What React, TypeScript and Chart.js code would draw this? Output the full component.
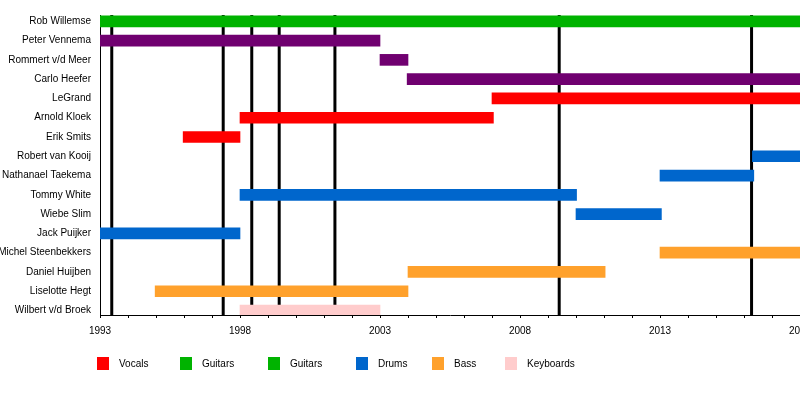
import React, { useEffect, useRef } from "react";
import { Chart, registerables } from "chart.js";

Chart.register(...registerables);

const members = [
  "Rob Willemse",
  "Peter Vennema",
  "Rommert v/d Meer",
  "Carlo Heefer",
  "LeGrand",
  "Arnold Kloek",
  "Erik Smits",
  "Robert van Kooij",
  "Nathanael Taekema",
  "Tommy White",
  "Wiebe Slim",
  "Jack Puijker",
  "Michel Steenbekkers",
  "Daniel Huijben",
  "Liselotte Hegt",
  "Wilbert v/d Broek",
];

const END = 2018.6;

// [member index, start, end]
const vocals: [number, number, number][] = [
  [4, 2007.0, END],
  [5, 1998.0, 2007.05],
  [6, 1995.97, 1998.0],
];
const guitars: [number, number, number][] = [[0, 1993.0, END]];
const rhythmGuitars: [number, number, number][] = [
  [1, 1993.0, 2003.0],
  [2, 2003.0, 2004.0],
  [3, 2003.97, END],
];
const drums: [number, number, number][] = [
  [7, 2016.3, END],
  [8, 2013.0, 2016.35],
  [9, 1998.0, 2010.02],
  [10, 2010.0, 2013.05],
  [11, 1993.0, 1998.0],
];
const bass: [number, number, number][] = [
  [12, 2013.0, END],
  [13, 2004.0, 2011.04],
  [14, 1994.97, 2004.0],
];
const keyboards: [number, number, number][] = [[15, 1998.0, 2003.0]];

const releases = [1993.42, 1997.4, 1998.42, 1999.4, 2001.39, 2009.4, 2016.27];

const legendLabels = ["Vocals", "Guitars", "Guitars", "Drums", "Bass", "Keyboards"];
const legendColors = ["#FF0000", "#00B300", "#00B300", "#0066CC", "#FFA12C", "#FFCCCC"];
const legendX = [97, 180, 268, 356, 432, 505];

const X_MIN = 1993;
const X_MAX = 2018;
const years: number[] = [];
for (let y = X_MIN; y <= X_MAX; y++) years.push(y);

const FONT = "'Liberation Sans', Arial, Helvetica, sans-serif";

function toData(rows: [number, number, number][]) {
  return rows.map(([i, s, e]) => ({ x: [s, e], y: i }));
}

const releaseLines = {
  id: "releaseLines",
  beforeDatasetsDraw(chart: any) {
    const { ctx, chartArea, scales } = chart;
    ctx.save();
    ctx.strokeStyle = "#000";
    ctx.lineWidth = 3;
    for (const r of releases) {
      const x = scales.x.getPixelForValue(r);
      ctx.beginPath();
      ctx.moveTo(x, chartArea.top);
      ctx.lineTo(x, chartArea.bottom);
      ctx.stroke();
    }
    ctx.restore();
  },
};

export default function App() {
  const ref = useRef<HTMLCanvasElement | null>(null);

  useEffect(() => {
    if (!ref.current) return;
    const mk = (label: string, rows: [number, number, number][], color: string) => ({
      label,
      data: toData(rows),
      backgroundColor: color,
      borderWidth: 0,
      barThickness: 11,
      grouped: false,
    });
    const chart = new Chart(ref.current, {
      type: "bar",
      data: {
        datasets: [
          mk("Vocals", vocals, "#FF0000"),
          mk("Guitars", guitars, "#00B300"),
          mk("Rhythm guitars", rhythmGuitars, "#700070"),
          mk("Drums", drums, "#0066CC"),
          mk("Bass", bass, "#FFA12C"),
          mk("Keyboards", keyboards, "#FFCCCC"),
        ] as any,
      },
      plugins: [releaseLines],
      options: {
        animation: false,
        responsive: false,
        indexAxis: "y",
        layout: { padding: { top: 15, bottom: 50, left: 0, right: 0 } },
        plugins: {
          legend: { display: false },
          tooltip: { enabled: false },
          title: { display: false },
        },
        scales: {
          x: {
            type: "linear",
            offset: false,
            min: X_MIN,
            max: X_MAX,
            afterBuildTicks: (scale: any) => {
              scale.ticks = years.map((v) => ({ value: v }));
            },
            afterFit: (scale: any) => {
              scale.height = 30;
              scale.paddingLeft = 0;
              scale.paddingRight = 0;
            },
            grid: {
              display: true,
              drawOnChartArea: false,
              drawTicks: true,
              tickLength: 3,
              color: "#000",
              lineWidth: 1,
            },
            border: { display: true, color: "#000", width: 1 },
            ticks: {
              autoSkip: false,
              maxRotation: 0,
              padding: 7,
              color: "#000",
              font: { family: FONT, size: 10 },
              callback: (v: any) => ((Number(v) - X_MIN) % 5 === 0 ? String(v) : ""),
            },
          },
          y: {
            type: "linear",
            offset: false,
            reverse: true,
            min: -0.327,
            max: 15.233,
            afterBuildTicks: (scale: any) => {
              scale.ticks = members.map((_, i) => ({ value: i }));
            },
            afterFit: (scale: any) => {
              scale.width = 100;
              scale.paddingTop = 0;
              scale.paddingBottom = 0;
            },
            grid: { display: false, drawTicks: false, tickLength: 0 },
            border: { display: true, color: "#000", width: 1 },
            ticks: {
              autoSkip: false,
              padding: 9,
              color: "#000",
              font: { family: FONT, size: 10 },
              callback: (v: any) => members[Number(v)] ?? "",
            },
          },
        },
      } as any,
    });
    return () => chart.destroy();
  }, []);

  return (
    <div
      style={{
        position: "fixed",
        left: 0,
        top: 0,
        width: 800,
        height: 395,
        background: "#fff",
        overflow: "hidden",
        fontFamily: FONT,
      }}
    >
      <canvas ref={ref} width={800} height={395} style={{ display: "block" }} />
      {legendLabels.map((lab, i) => (
        <div
          key={i}
          style={{
            position: "absolute",
            left: legendX[i],
            top: 357,
            height: 13,
            display: "flex",
            alignItems: "center",
            fontSize: 10,
            color: "#000",
            whiteSpace: "nowrap",
          }}
        >
          <span
            style={{
              display: "inline-block",
              width: 12,
              height: 13,
              background: legendColors[i],
              marginRight: 10,
            }}
          />
          <span>{lab}</span>
        </div>
      ))}
    </div>
  );
}
